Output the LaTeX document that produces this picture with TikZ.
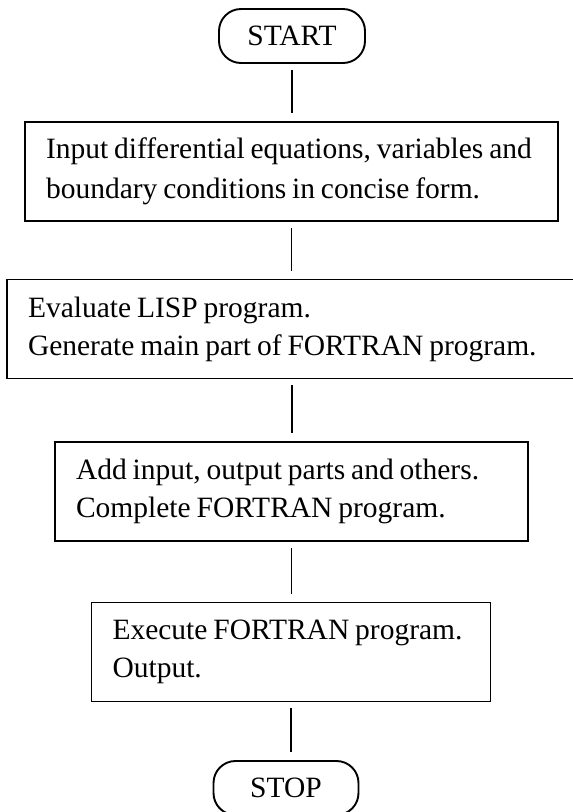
\documentclass[tikz,border=0pt]{standalone}
\usepackage{fontspec}
\setmainfont[WordSpace=0.8]{Liberation Serif}

\begin{document}
\begin{tikzpicture}[
  x=1pt, y=-1pt,
  line width=1.9pt,
  font=\fontsize{29.5}{38}\selectfont,
  term/.style={draw,rounded corners=22pt,minimum width=146pt,
    minimum height=54pt,inner sep=0pt},
  stepbox/.style={draw,align=flush left,inner xsep=21pt,inner ysep=0pt,
    minimum height=99pt},
  link/.style={shorten <=6pt,shorten >=8pt}
]
  % page frame (pixel units, y going down)
  \useasboundingbox (0,0) rectangle (573,812);

  \node[term] (start) at (292,36) {START};

  \node[stepbox,text width=491pt] (in1) at (291.5,171.5)
    {Input differential equations, variables and\\[2pt]
     boundary conditions in concise form.};

  \node[stepbox,text width=528pt] (gen) at (292,329)
    {Evaluate LISP program.\\
     Generate main part of FORTRAN program.};

  \node[stepbox,text width=431pt] (add) at (291.5,491.5)
    {Add input, output parts and others.\\
     Complete FORTRAN program.};

  \node[stepbox,text width=357pt] (run) at (291,652)
    {Execute FORTRAN program.\\
     Output.};

  \node[term,minimum width=145pt] (stop) at (286,788) {STOP};

  % plain vertical links, no arrow tips
  \foreach \a/\b in {start/in1,in1/gen,gen/add,add/run,run/stop}
    \draw[link] (\a.south) -- (\a.south |- \b.north);
\end{tikzpicture}
\end{document}
